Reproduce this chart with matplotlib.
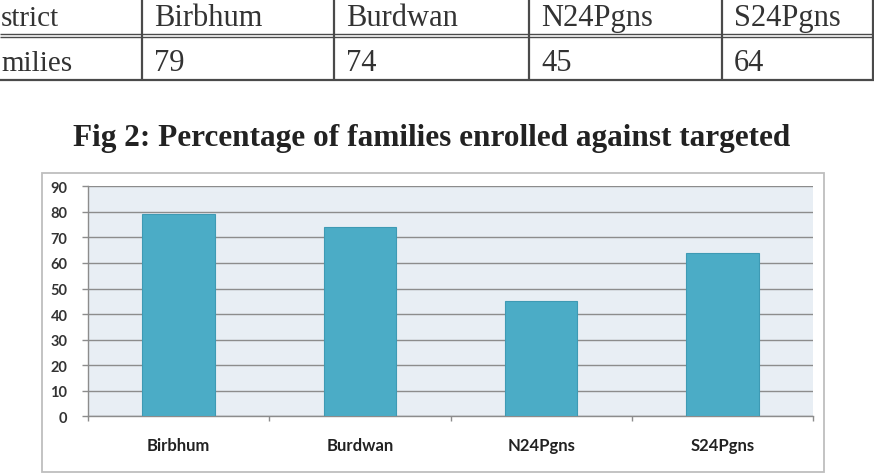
import matplotlib
matplotlib.use("Agg")
import matplotlib.pyplot as plt
import numpy as np
from matplotlib.patches import Rectangle
from matplotlib.lines import Line2D

# ---- data ----
districts = ["Birbhum", "Burdwan", "N24Pgns", "S24Pgns"]
enrolled_pct = [79, 74, 45, 64]
y_ticks = [0, 10, 20, 30, 40, 50, 60, 70, 80, 90]
table_header_label = "strict"      # visible part of "District" (cropped)
table_row_label = "milies"         # visible part of "Families" (cropped)
title_text = "Fig 2: Percentage of families enrolled against targeted"

W, H = 874, 477
fig = plt.figure(figsize=(W / 100, H / 100), dpi=100)
fig.patch.set_facecolor("white")


def fx(x):
    return x / W


def fy(y):
    return 1 - y / H


def hline(x0, x1, y, lw=1.3, color="#4a4a4a"):
    fig.add_artist(Line2D([fx(x0), fx(x1)], [fy(y), fy(y)], transform=fig.transFigure,
                          color=color, lw=lw, solid_capstyle="butt"))


def vline(x, y0, y1, lw=1.6, color="#4a4a4a"):
    fig.add_artist(Line2D([fx(x), fx(x)], [fy(y0), fy(y1)], transform=fig.transFigure,
                          color=color, lw=lw, solid_capstyle="butt"))


# ---- table fragment at top ----
hline(0, W, 34.5, lw=1.0)
hline(0, W, 37.8, lw=1.0)
hline(0, W, 81, lw=1.6)
col_x = [141.7, 334, 529, 722, 873]
for cx in col_x:
    vline(cx, 0, 81)

serif = ["Liberation Serif", "DejaVu Serif"]
tcolor = "#333333"
fig.text(fx(1), fy(26), table_header_label, ha="left", va="baseline",
         fontsize=21, family=serif, color=tcolor)
fig.text(fx(1), fy(71), table_row_label, ha="left", va="baseline",
         fontsize=21, family=serif, color=tcolor)
for i, (name, val) in enumerate(zip(districts, enrolled_pct)):
    x0 = col_x[i] + 12
    fig.text(fx(x0), fy(26), name, ha="left", va="baseline",
             fontsize=22, family=serif, color=tcolor)
    fig.text(fx(x0), fy(71), str(val), ha="left", va="baseline",
             fontsize=22, family=serif, color=tcolor)

# ---- title ----
fig.text(fx(432), fy(146), title_text, ha="center", va="baseline",
         fontsize=22.5, family=serif, fontweight="bold", color="#222222")

# ---- chart frame ----
fig.add_artist(Rectangle((fx(41.7), fy(473)), fx(824) - fx(41.7), fy(174) - fy(473),
                         transform=fig.transFigure, facecolor="white",
                         edgecolor="#BEBEBE", lw=1.3, zorder=0))

# ---- chart ----
ax = fig.add_axes([fx(88), fy(417.3), fx(813) - fx(88), fy(187.3) - fy(417.3)])
ax.set_facecolor("#E8EEF4")
x = np.arange(len(districts))
ax.bar(x, enrolled_pct, width=0.40, color="#4BACC6", edgecolor="#3E9AB4",
       linewidth=0.8, zorder=3)
ax.set_xlim(-0.5, len(districts) - 0.5)
ax.set_ylim(0, 90)
ax.set_yticks(y_ticks)
ax.yaxis.grid(True, color="#8C8C8C", lw=1.0)
ax.set_axisbelow(True)
for s in ["top", "right"]:
    ax.spines[s].set_visible(False)
for s in ["left", "bottom"]:
    ax.spines[s].set_color("#8C8C8C")
    ax.spines[s].set_linewidth(1.0)

lab_font = ["Lato", "DejaVu Sans"]
ax.tick_params(axis="y", length=4.3, width=1.0, color="#8C8C8C", pad=10.5,
               labelsize=10.5, labelcolor="#333333")
for t in ax.get_yticklabels():
    t.set_family(lab_font)
    t.set_fontweight("bold")

ax.set_xticks(x)
ax.set_xticklabels(districts)
ax.set_xticks(np.arange(-0.5, len(districts), 1.0), minor=True)
ax.tick_params(axis="x", which="major", length=0, pad=15, labelsize=12,
               labelcolor="#222222")
ax.tick_params(axis="x", which="minor", length=3.5, width=1.0, color="#8C8C8C")
for t in ax.get_xticklabels():
    t.set_family(lab_font)
    t.set_fontweight("bold")

fig.savefig("out.png", dpi=100, facecolor="white")
